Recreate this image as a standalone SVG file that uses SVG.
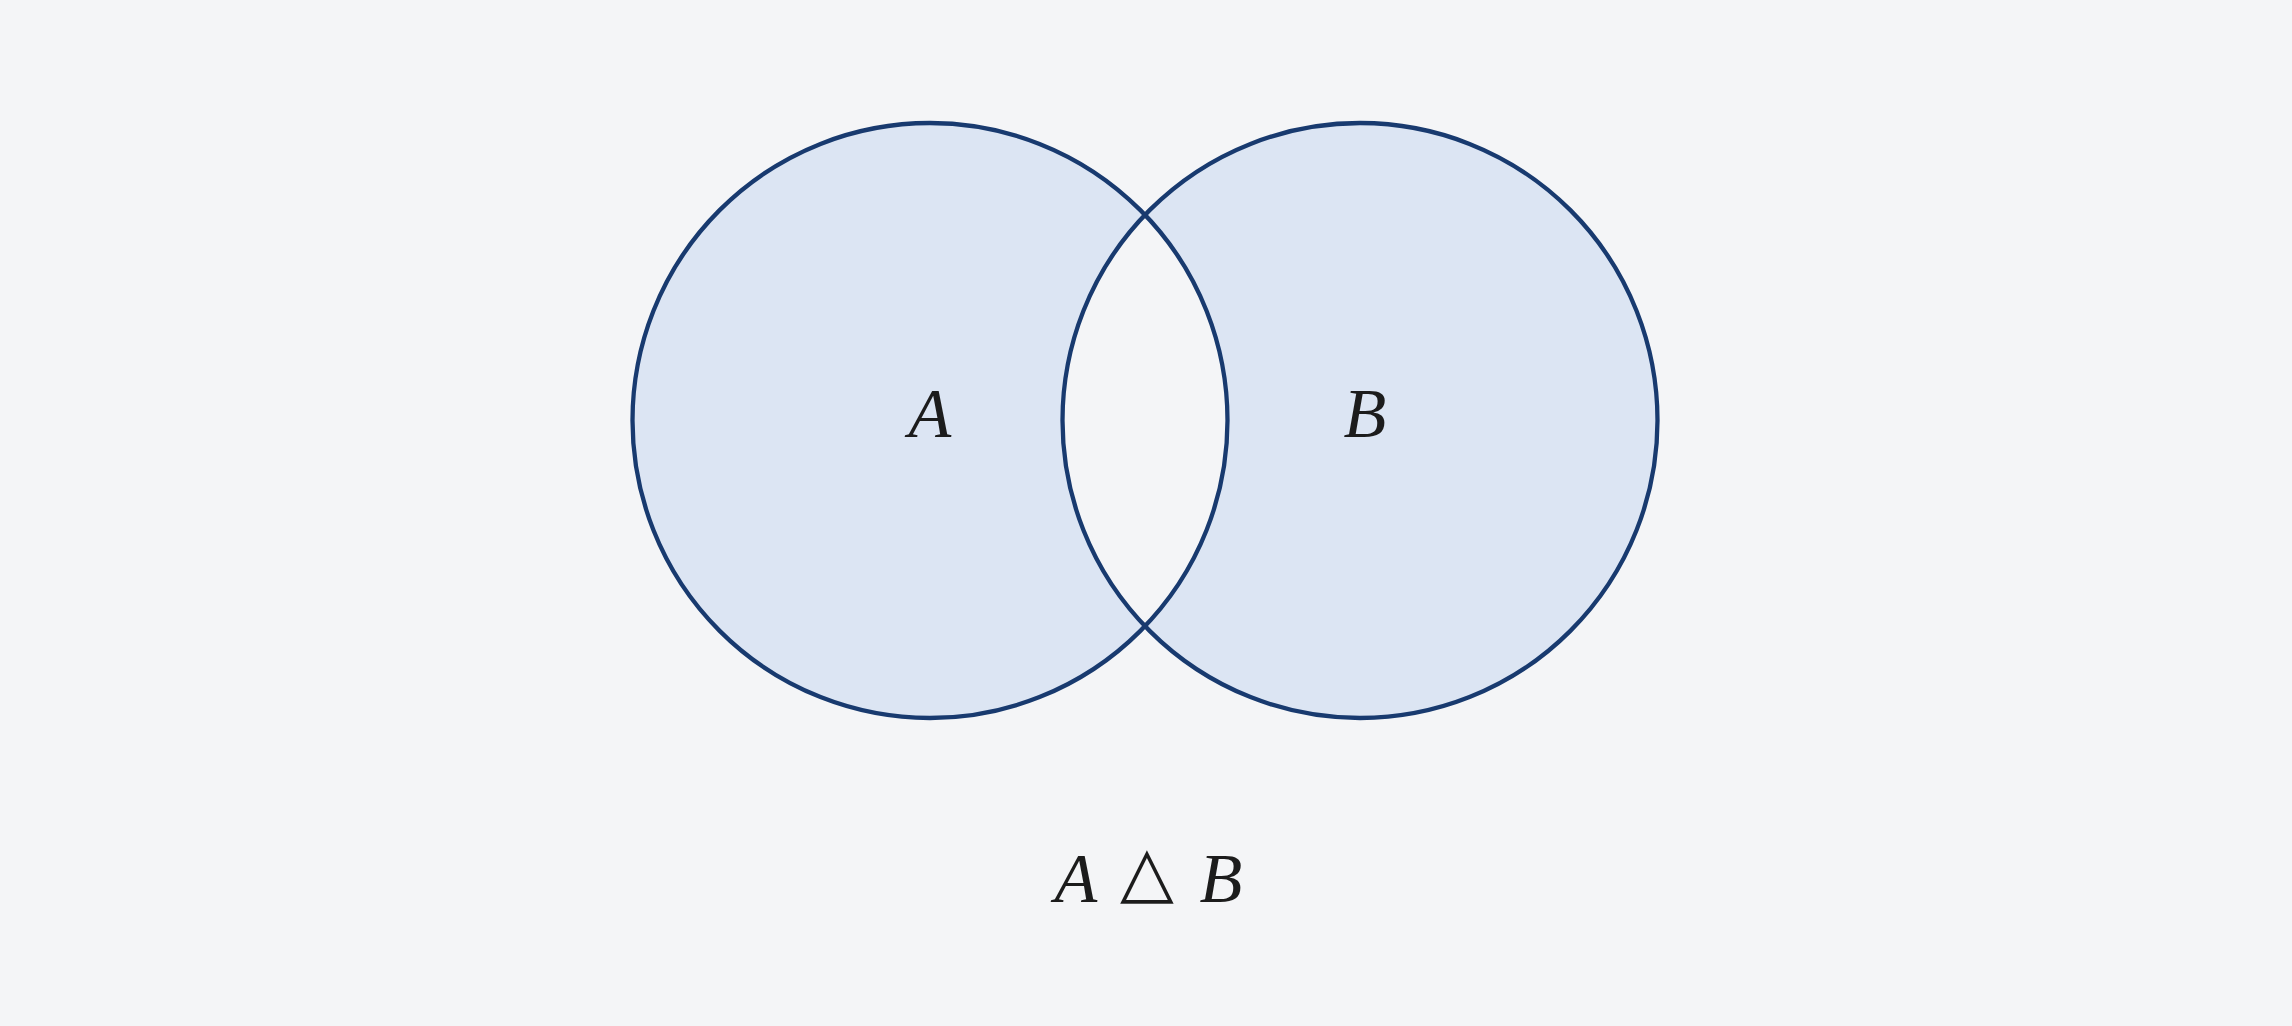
<svg xmlns="http://www.w3.org/2000/svg" width="2292" height="1026" viewBox="0 0 2292 1026">
<style>
.lbl{font-family:"Liberation Serif","Times New Roman",serif;font-style:italic;font-size:70px;fill:#1c1c1c;text-anchor:middle}
.sym{font-family:"DejaVu Sans",sans-serif;font-size:70px;fill:#1c1c1c;text-anchor:middle}
.ring{fill:none;stroke:#183a6f;stroke-width:4.3}
</style>
<rect width="2292" height="1026" fill="#f4f5f7"/>
<g id="region">
<path d="M632.5,420.5 a297.5,297.5 0 1,0 595,0 a297.5,297.5 0 1,0 -595,0 Z M1062.5,420.5 a297.5,297.5 0 1,0 595,0 a297.5,297.5 0 1,0 -595,0 Z" fill="#dce5f3" fill-rule="evenodd"/>
</g>
<g id="setA">
<circle class="ring" cx="930" cy="420.5" r="297.5"/>
<text class="lbl" x="930" y="437">A</text>
</g>
<g id="setB">
<circle class="ring" cx="1360" cy="420.5" r="297.5"/>
<text class="lbl" x="1365" y="437">B</text>
</g>
<g id="connectors"></g>
<g id="caption">
<text class="lbl" x="1076" y="902">A</text>
<text class="sym" x="1147" y="895">△</text>
<text class="lbl" x="1221" y="902">B</text>
</g>
</svg>
